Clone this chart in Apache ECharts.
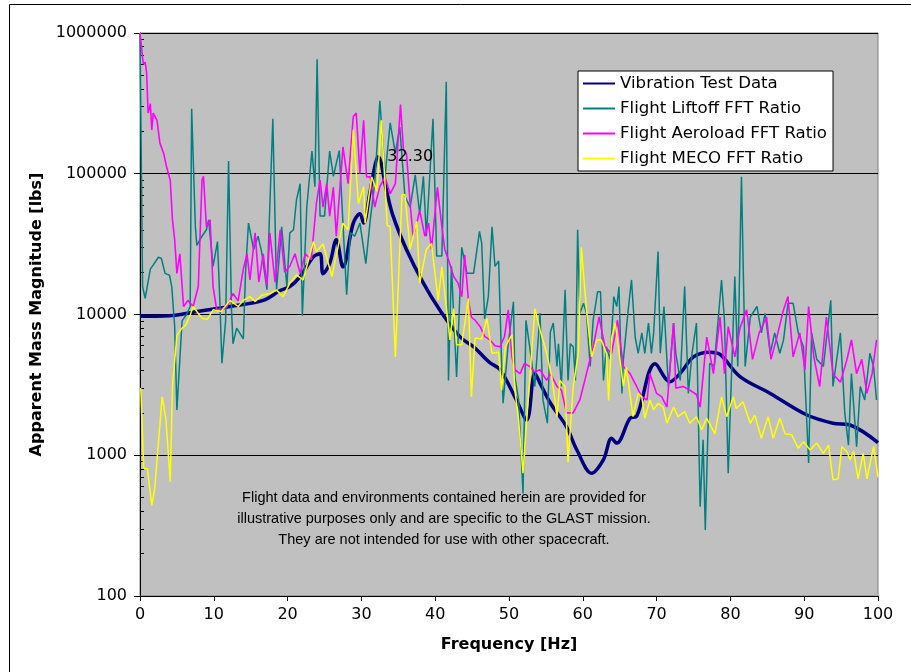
<!DOCTYPE html>
<html>
<head>
<meta charset="utf-8">
<script src="https://cdn.jsdelivr.net/npm/echarts@6/dist/echarts.min.js"></script>
<style>html,body{margin:0;padding:0;background:#fff}#c{width:911px;height:672px}</style>
</head>
<body>
<div id="c"></div>
<script>
// ---- Data ----
const xTicks = [0,10,20,30,40,50,60,70,80,90,100];
const yTicks = [100,1000,10000,100000,1000000];

const vibFreq = [0,4,7.7,12.2,16.7,19,20.3,21.7,23.5,24.4,24.8,25.7,26.6,27.5,28.9,29.8,30.3,31.2,32.3,33.4,34.3,36.1,38.4,40.6,43.4,45.2,46.1,47.4,48.8,51,52.4,53.5,54.2,55.6,57.8,59.2,61.2,62.8,63.9,64.6,66.4,67.3,69.8,71.8,73.2,75,77.2,78.6,81.3,85.4,90.3,93.9,96.2,100];
const vibVal = [9700,9800,10500,11400,12600,14800,15800,18600,25700,27000,19500,23000,34000,21800,44600,52000,44600,76000,132000,76000,50000,29000,16700,10800,6900,5900,5300,4550,4050,2470,1780,3820,3250,2350,1590,1090,745,930,1320,1220,1830,1890,4470,3330,3820,5000,5400,5200,3620,2750,1940,1690,1640,1230];

const liftFreq = [0,0.35,0.7,1.4,1.8,2.5,2.9,3.4,4,4.3,4.7,5,5.7,6.3,6.8,7,7.5,7.7,8.4,9,9.3,9.9,10.5,10.8,11.1,11.6,12,12.4,12.6,13.1,14,14.3,14.7,15.4,16,16.5,17.2,18,18.5,19.2,19.9,20.3,20.8,21.2,21.7,22,22.6,23.3,23.7,24,24.4,25,25.7,26.2,27,27.5,28,28.5,29.1,29.8,30.6,31.2,31.8,32.5,33.2,33.9,34.6,35.2,35.9,36.6,37.3,37.9,38.4,38.8,39.7,40.2,40.9,41.5,41.8,42.2,42.9,43.6,44.3,45.2,46,46.3,46.7,47.2,47.7,48.1,48.6,49,49.2,49.9,50.6,50.8,51.3,51.9,52.3,52.8,53.5,54.2,54.6,55.2,55.6,56,56.5,56.7,57.1,57.6,58,58.3,58.7,59,59.3,59.6,60.1,60.5,61,61.4,62,62.4,62.8,63.2,63.7,64.2,64.6,64.9,65.3,65.5,66.2,66.6,67.1,67.5,68,68.4,68.9,69.3,69.6,70.2,70.5,71,71.6,72.3,72.6,73.2,73.8,74.3,74.8,75.4,75.9,76.3,76.6,77.2,77.8,78.8,79.2,79.7,80.6,81,81.5,82,82.7,83.6,84.2,84.7,85.4,86,86.7,87.2,87.8,88.5,89.2,89.9,90.6,91,91.7,92.6,93.6,93.9,94.9,95.5,96,96.4,97.1,97.6,98.2,98.9,99.4,99.8];
const liftVal = [1000000,15800,13000,21000,22500,25500,25000,19600,19000,15800,8200,2100,9000,10000,11400,290000,42000,31000,36000,40000,47000,22000,33000,13400,4500,9000,123000,10800,6200,8000,6700,20000,44600,29000,36000,27500,15000,246000,15000,42000,15800,38000,40000,65000,85000,9800,58000,145000,81000,650000,50000,50000,145000,96000,146000,44600,13800,38000,36000,44600,23000,47000,85000,330000,96000,230000,140000,215000,69000,58000,98000,52000,96000,36000,246000,26000,26000,450000,3400,22000,3600,30000,19600,19600,39000,32000,9300,13400,42000,22000,24000,4500,2340,6200,12300,3600,2470,535,9100,5900,3080,10200,2470,1690,7500,8700,4270,6200,3080,15000,3400,6200,5900,3400,40000,10200,12000,10200,4270,9100,14500,14500,3400,5900,4800,13400,11400,15800,2750,4800,11400,17600,6900,5300,7400,5300,8700,5300,7400,28000,5300,11400,3080,8700,5300,3400,15800,2750,5300,8700,430,1290,295,4500,4300,17600,9000,745,18600,4270,95000,4270,9600,11400,7400,10200,5300,7400,5300,6600,12000,12000,7400,5900,880,7400,4800,4270,12600,3080,7400,1990,1180,3800,1150,3080,2470,5300,4270,2470];

const aeroFreq = [0,0.45,0.7,0.9,1.1,1.4,1.6,1.8,2.3,2.7,3.2,3.6,4.1,4.4,4.7,5,5.4,5.9,6.5,7.2,7.9,8.4,8.6,9,9.5,9.9,10.4,11.1,11.8,12.6,13.3,14,14.5,14.9,15.6,16.1,16.7,17.2,17.6,18.3,19,19.6,20.3,21,21.7,22.4,23.2,23.9,24.4,24.8,25.3,25.7,26.2,26.6,27.5,28.2,28.9,29.3,29.8,30.3,30.7,31.2,31.8,32.5,33.2,33.9,34.6,35.3,35.7,36.1,36.6,37,37.5,37.9,38.6,39.1,39.5,40.3,40.9,41.3,41.8,42.5,43.1,43.6,44,44.5,44.9,45.4,46.1,46.7,47.4,48.1,48.8,49.4,49.9,50.4,50.8,51.5,52.1,52.8,53.5,54.2,55.1,55.6,56.5,57.1,57.8,58.7,59.6,60.5,61.4,62.2,63,63.9,64.7,65.5,66.4,67.3,68,68.7,69.1,70,70.7,71.4,72.3,72.6,73.6,74.5,75.4,75.9,76.8,77.7,78.6,79.2,79.7,80.6,81.3,82.2,83,83.9,84.9,85.5,86.3,87.2,87.8,88.5,89.4,90.1,90.6,91.3,92.1,93,93.9,94.9,95.8,96.4,97.1,97.8,98.5,99.2,99.8];
const aeroVal = [1000000,600000,620000,520000,270000,315000,205000,270000,240000,165000,140000,112000,90000,47000,34000,19600,27000,11400,12600,11400,15800,90000,96000,42000,47000,15800,10800,11000,11400,14100,12500,21000,27000,17600,38000,17000,27000,16000,38000,17000,40000,20000,22000,27000,19600,27000,24500,61500,90000,58000,85000,50000,80000,36000,155000,85000,255000,270000,100000,240000,95000,95000,58000,81000,95000,72000,85000,310000,148000,140000,61500,36000,44600,55000,36000,44600,29000,80000,42000,29000,24500,18600,16700,13400,26500,12600,9600,9100,8200,7000,6600,6000,5900,7000,10800,5000,4050,3800,4500,4270,3900,4050,3400,3800,3080,2900,2000,2000,2470,3800,5900,9600,5900,5300,9100,4270,3800,3080,2600,2470,3800,2750,2600,2200,8700,3000,3080,2900,2700,2200,6900,3800,9600,3800,8200,5000,8000,10800,4800,7400,9600,4800,6900,10800,13400,5000,7400,4050,11400,5000,3080,9600,3800,3300,4800,6600,3800,4800,2750,3800,6600];

const mecoFreq = [0.1,0.5,1,1.6,2,3,3.5,4.1,4.4,5,5.6,6.2,6.8,7.2,7.7,8.4,9.1,9.9,11,12.2,13.3,14,14.9,15.6,16.5,17.6,18.5,19.4,20.3,21.2,22.1,23.5,23.9,24.8,26,27.5,28.2,28.9,29.6,30.3,30.5,31.4,32.1,32.7,33.2,33.5,33.9,34.6,35.5,35.9,36.6,37.5,37.9,38.8,39.5,40.4,40.9,41.3,42,42.5,42.9,43.6,44.5,44.9,45.4,46.3,47,47.7,48.6,49,49.5,50.4,50.8,51.3,51.9,52.5,53.5,54.2,55.1,55.8,56.5,56.9,57.6,58,58.7,59.4,59.8,60.5,61.2,61.9,62.5,63.2,63.5,63.9,64.4,64.8,65.5,65.9,66.8,67.5,68,68.4,69.1,69.6,70.2,70.9,71.4,72.3,72.9,73.8,74.5,75.4,76.1,76.8,77.9,78.8,79.5,80.4,80.8,81.7,82.7,83.3,84.2,85.1,85.8,86.7,87.4,88.3,89.2,89.9,90.8,91.7,92.6,93.3,93.9,94.6,95.1,95.8,96.2,96.7,97.3,98,98.5,99.4,100];
const mecoVal = [3000,810,800,440,585,2600,1830,650,3100,7100,7900,8400,9900,11400,10500,9400,9200,10800,10500,12600,11400,12600,13400,12400,13700,14100,14900,13400,16700,19100,17600,33000,28000,31700,18600,44600,40000,205000,61500,81000,44600,95000,75000,240000,85000,43000,42000,5000,71000,71000,29000,46000,16700,29000,32000,12600,21800,14100,6600,11000,6100,6100,13000,2600,6800,6700,9400,5300,5400,2900,5900,7200,2900,1780,745,2100,11000,7800,5300,3600,1880,3400,3080,890,3080,5300,30000,10800,5000,6600,6600,5300,2450,6800,8700,5900,3100,4240,1880,2750,2600,1830,2470,2100,2340,2200,1690,2200,1880,2040,1690,1880,1520,1830,1420,2600,1880,2600,2150,2400,1690,1930,1320,1880,1320,1830,1420,1400,1120,1250,1090,1220,1030,1180,670,680,1150,1060,930,1060,680,1030,680,1150,700];

const peakFreq = 32.3, peakVal = 132000, peakLabel = '32.30';
const noteLines = [
  'Flight data and environments contained herein are provided for',
  'illustrative purposes only and are specific to the GLAST mission.',
  'They are not intended for use with other spacecraft.'
];
const minorY = [];
[100,1000,10000,100000].forEach(d => { for (let k = 2; k <= 9; k++) minorY.push(d*k); });

const pairs = (xs, ys) => xs.map((x, i) => [x, ys[i]]);
const FONT = 'DejaVu Sans';

const chart = echarts.init(document.getElementById('c'), null, {renderer: 'canvas'});
chart.setOption({
  animation: false,
  backgroundColor: '#fff',
  grid: {left: 140, right: 33, top: 33, bottom: 76, show: true, backgroundColor: '#c0c0c0', borderColor: '#808080', borderWidth: 1},
  legend: {
    orient: 'vertical', left: 578, top: 71,
    backgroundColor: '#fff', borderColor: '#000', borderWidth: 1,
    padding: [4, 6, 4, 4], itemWidth: 32, itemHeight: 14, itemGap: 8,
    itemStyle: {opacity: 0, borderWidth: 0},
    textStyle: {fontFamily: FONT, fontSize: 16.6, color: '#000'},
    data: ['Vibration Test Data','Flight Liftoff FFT Ratio','Flight Aeroload FFT Ratio','Flight MECO FFT Ratio']
  },
  xAxis: {
    type: 'value', min: 0, max: 100, interval: 10,
    name: 'Frequency [Hz]', nameLocation: 'middle', nameGap: 41,
    nameTextStyle: {fontFamily: FONT, fontSize: 16, fontWeight: 'bold', color: '#000'},
    axisLine: {show: true, lineStyle: {color: '#000', width: 1}},
    axisTick: {show: true, length: 5, lineStyle: {color: '#000'}, customValues: xTicks},
    axisLabel: {fontFamily: FONT, fontSize: 16, color: '#000', margin: 11, customValues: xTicks},
    splitLine: {show: false}
  },
  yAxis: [{
    type: 'log', logBase: 10, min: 100, max: 1000000,
    name: 'Apparent Mass Magnitude [lbs]', nameLocation: 'middle', nameGap: 94,
    nameTextStyle: {fontFamily: FONT, fontSize: 16, fontWeight: 'bold', color: '#000'},
    axisLine: {show: true, lineStyle: {color: '#000', width: 1}},
    axisTick: {show: true, length: 6, lineStyle: {color: '#000'}},
    axisLabel: {fontFamily: FONT, fontSize: 16, color: '#000', margin: 13, formatter: v => String(Math.round(v))},
    splitLine: {show: true, lineStyle: {color: '#000', width: 1}}
  }, {
    type: 'log', logBase: 10, min: 100, max: 1000000, position: 'left',
    axisLine: {show: false},
    axisTick: {show: true, inside: true, length: 4, lineStyle: {color: '#000'}, customValues: minorY},
    axisLabel: {show: false},
    splitLine: {show: false}
  }],
  series: [
    {name: 'Vibration Test Data', type: 'line', showSymbol: false, symbol: 'none', smooth: 0.35,
     lineStyle: {color: '#000080', width: 3.5}, itemStyle: {color: '#000080'},
     data: pairs(vibFreq, vibVal), z: 2,
     markPoint: {symbol: 'circle', symbolSize: 0, data: [{coord: [peakFreq, peakVal]}],
       label: {show: true, formatter: peakLabel, position: 'right', distance: 9, fontFamily: FONT, fontSize: 16, color: '#000'}}},
    {name: 'Flight Liftoff FFT Ratio', type: 'line', showSymbol: false, symbol: 'none',
     lineStyle: {color: '#008080', width: 1.5}, itemStyle: {color: '#008080'},
     data: pairs(liftFreq, liftVal), z: 3},
    {name: 'Flight Aeroload FFT Ratio', type: 'line', showSymbol: false, symbol: 'none',
     lineStyle: {color: '#ff00ff', width: 1.6}, itemStyle: {color: '#ff00ff'},
     data: pairs(aeroFreq, aeroVal), z: 4},
    {name: 'Flight MECO FFT Ratio', type: 'line', showSymbol: false, symbol: 'none',
     lineStyle: {color: '#ffff00', width: 1.5}, itemStyle: {color: '#ffff00'},
     data: pairs(mecoFreq, mecoVal), z: 5}
  ],
  graphic: [
    {type: 'rect', left: 7, top: 2, shape: {width: 1000, height: 1000}, style: {fill: 'none', stroke: '#000', lineWidth: 1}, silent: true, z: -10}
  ].concat(noteLines.map((t, i) => ({
    type: 'text', x: 444, y: 498 + i * 21, silent: true, z: 100,
    style: {text: t, fontFamily: 'Liberation Sans', fontSize: 14.5, fill: '#000', align: 'center', verticalAlign: 'middle'}
  })))
});
</script>
</body>
</html>
